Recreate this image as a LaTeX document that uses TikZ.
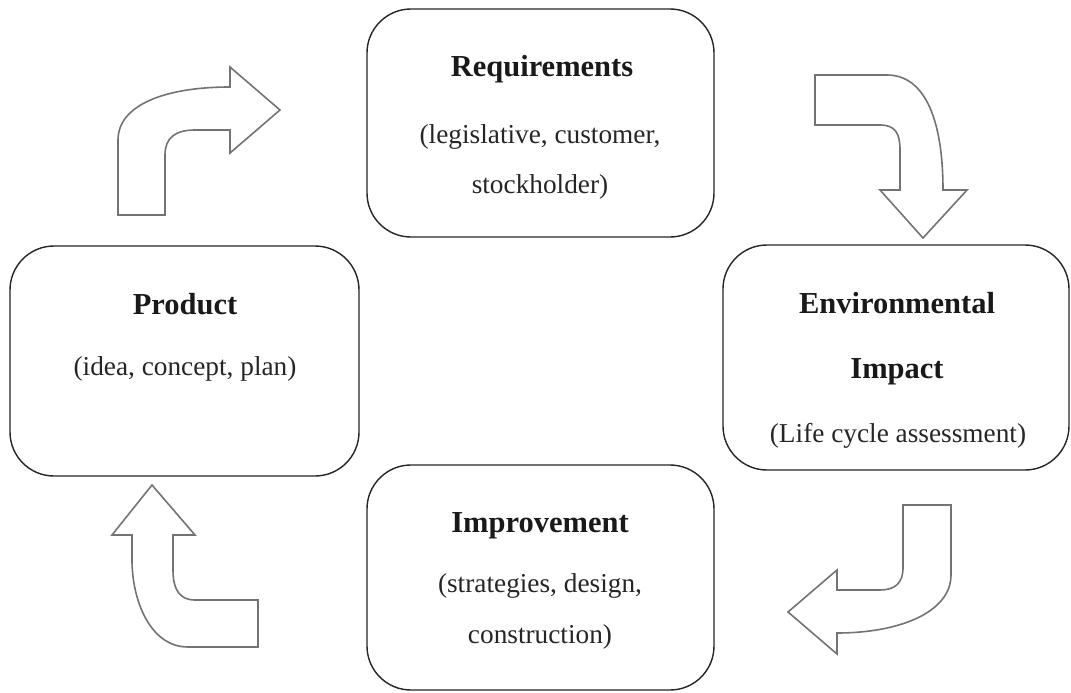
\documentclass[tikz,border=0pt]{standalone}
\usepackage{fontspec}
\setmainfont{Liberation Serif}
\begin{document}
\begin{tikzpicture}[x=1pt,y=-1pt,
  box/.style={draw=black!85,line width=1.4pt,rounded corners=44pt,inner sep=0pt},
  ttl/.style={anchor=base,font=\fontsize{30.5}{36}\selectfont\bfseries,text=black!90,inner sep=0pt},
  sub/.style={anchor=base,font=\fontsize{27.3}{32}\selectfont,text=black!85,inner sep=0pt},
  bigarrow/.style={draw=black!55,line width=1.6pt,fill=white,line join=miter}]
\useasboundingbox[fill=white] (0,0) rectangle (1071,693);
% boxes
\node[box,minimum width=347pt,minimum height=228pt] (req) at (540.5,123) {};
\node[box,minimum width=349pt,minimum height=230pt] (prod) at (184.5,361) {};
\node[box,minimum width=346pt,minimum height=225pt] (env) at (896,357.5) {};
\node[box,minimum width=347pt,minimum height=225pt] (impr) at (540.5,577.5) {};
% texts
\node[ttl] (reqT) at (542,77) {Requirements};
\node[sub] (reqA) at (540,143) {(legislative, customer,};
\node[sub] (reqB) at (540,193) {stockholder)};
\node[ttl] (prodT) at (185,314) {Product};
\node[sub] (prodA) at (185,375) {(idea, concept, plan)};
\node[ttl] (envT) at (897,313) {Environmental};
\node[ttl] (envI) at (897,378) {Impact};
\node[sub] (envA) at (898,442) {(Life cycle assessment)};
\node[ttl] (imprT) at (540,532) {Improvement};
\node[sub] (imprA) at (540,592) {(strategies, design,};
\node[sub] (imprB) at (540,643) {construction)};
% block arrows
\draw[bigarrow] (118,215) -- (118,140) .. controls (118,105) and (165,87) .. (230,87)
  -- (230,67) -- (280,110) -- (230,153) -- (230,130) -- (195,130)
  .. controls (175,130) and (165,138) .. (165,155) -- (165,215) -- cycle;
\draw[bigarrow] (815,75) -- (887,75) .. controls (925,75) and (943,120) .. (943,190)
  -- (967,190) -- (923,238) -- (880,190) -- (900,190) -- (900,150)
  .. controls (900,133) and (895,125) .. (880,125) -- (815,125) -- cycle;
\draw[bigarrow] (903,505) -- (951,505) -- (951,575) .. controls (951,612) and (900,633) .. (837,633)
  -- (837,654) -- (788,612) -- (837,570) -- (837,590) -- (880,590)
  .. controls (895,590) and (903,583) .. (903,568) -- cycle;
\draw[bigarrow] (152,485) -- (195,535) -- (173,535) -- (173,570)
  .. controls (173,590) and (180,600) .. (195,600) -- (258,600) -- (258,647) -- (188,647)
  .. controls (150,647) and (132,600) .. (132,560) -- (132,535) -- (112,535) -- cycle;
\end{tikzpicture}
\end{document}
